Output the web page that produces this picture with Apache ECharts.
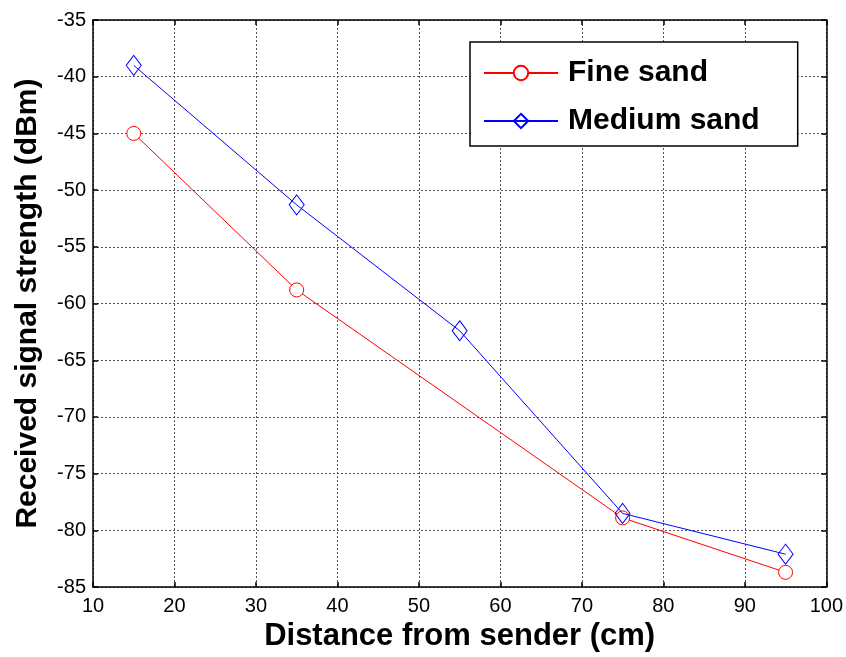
<!DOCTYPE html>
<html>
<head>
<meta charset="utf-8">
<script src="https://cdn.jsdelivr.net/npm/echarts@6/dist/echarts.min.js"></script>
<style>html,body{margin:0;padding:0;background:#fff}#c{width:846px;height:657px}</style>
</head>
<body>
<div id="c"></div>
<script>
const distances = [15, 35, 55, 75, 95];
const fineSandX = [15, 35, 75, 95];
const fineSand = [-45, -58.8, -78.9, -83.7];
const mediumSand = [-39.0, -51.3, -62.4, -78.5, -82.1];
const seriesNames = ['Fine sand', 'Medium sand'];
const xTitle = 'Distance from sender (cm)';
const yTitle = 'Received signal strength (dBm)';

const FONT = '"Liberation Sans", Arial, sans-serif';
const chart = echarts.init(document.getElementById('c'), null, {renderer: 'canvas'});

const baseAxis = {
  axisLine: {show: true, onZero: false, lineStyle: {color: '#000', width: 1.5}},
  axisTick: {show: true, inside: true, length: 5, lineStyle: {color: '#000', width: 1.5}},
  splitLine: {show: false}
};

chart.setOption({
  animation: false,
  backgroundColor: '#fff',
  grid: {left: 93, right: 19, top: 20, bottom: 68, containLabel: false},
  xAxis: [
    Object.assign({}, baseAxis, {
      type: 'value', min: 10, max: 100, interval: 10, position: 'bottom',
      axisLabel: {color: '#000', fontSize: 20, fontFamily: FONT, margin: 9},
      splitLine: {show: true, lineStyle: {color: '#555', type: [2, 2], width: 1}},
      name: xTitle, nameLocation: 'middle', nameGap: 30,
      nameTextStyle: {color: '#000', fontSize: 31, fontWeight: 'bold', fontFamily: FONT}
    }),
    Object.assign({}, baseAxis, {
      type: 'value', min: 10, max: 100, interval: 10, position: 'top',
      axisLabel: {show: false}
    })
  ],
  yAxis: [
    Object.assign({}, baseAxis, {
      type: 'value', min: -85, max: -35, interval: 5, position: 'left',
      axisLabel: {color: '#000', fontSize: 20, fontFamily: FONT, margin: 7},
      splitLine: {show: true, lineStyle: {color: '#555', type: [2, 2], width: 1}},
      name: yTitle, nameLocation: 'middle', nameGap: 50, nameRotate: 90,
      nameTextStyle: {color: '#000', fontSize: 30, fontWeight: 'bold', fontFamily: FONT}
    }),
    Object.assign({}, baseAxis, {
      type: 'value', min: -85, max: -35, interval: 5, position: 'right',
      axisLabel: {show: false}
    })
  ],
  legend: {
    orient: 'vertical', left: 470, top: 42,
    padding: [15, 38, 9, 13], itemGap: 16, itemWidth: 74, itemHeight: 18,
    backgroundColor: '#fff', borderColor: '#000', borderWidth: 1.5, borderRadius: 0,
    textStyle: {color: '#000', fontSize: 30, fontWeight: 'bold', fontFamily: FONT, lineHeight: 32, padding: [0, 0, 0, 5]},
    data: seriesNames
  },
  series: [
    {
      name: seriesNames[0], type: 'line',
      data: fineSandX.map((x, i) => [x, fineSand[i]]),
      symbol: 'circle', symbolSize: 14, showAllSymbol: true,
      lineStyle: {color: '#ff0000', width: 1},
      itemStyle: {color: '#fff', borderColor: '#ff0000', borderWidth: 1},
      color: '#ff0000', z: 3
    },
    {
      name: seriesNames[1], type: 'line',
      data: distances.map((x, i) => [x, mediumSand[i]]),
      symbol: 'diamond', symbolSize: [15, 20], showAllSymbol: true,
      lineStyle: {color: '#0000ff', width: 1},
      itemStyle: {color: 'rgba(255,255,255,0)', borderColor: '#0000ff', borderWidth: 1},
      color: '#0000ff', z: 4
    }
  ]
});
</script>
</body>
</html>
